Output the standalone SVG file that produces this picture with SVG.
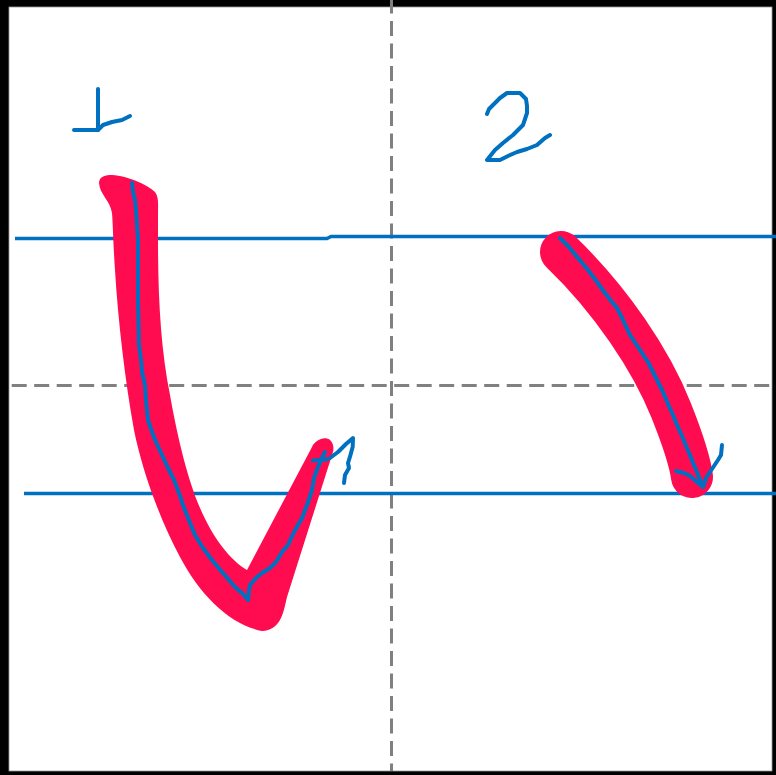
<svg xmlns="http://www.w3.org/2000/svg" width="776" height="775" viewBox="0 0 776 775">
<style>
.guide{fill:none;stroke:#808080;stroke-width:3;stroke-dasharray:15 7.5}
.base{fill:none;stroke:#0070C0;stroke-width:3.5}
.ink{fill:none;stroke:#0070C0;stroke-width:4;stroke-linecap:round;stroke-linejoin:round}
.brush{fill:#FF0B4F}
</style>
<rect x="0" y="0" width="776" height="775" fill="#000"/>
<rect x="9" y="7" width="763" height="764" fill="#fff" stroke="#9a9a9a" stroke-width="0.8"/>
<g id="grid">
<path class="guide" d="M391.5,-1.5 V771"/>
<path class="guide" d="M11.7,385.5 H772"/>
</g>
<g id="baselines">
<path class="base" d="M15,238.5 H327 L331,236.5 H776"/>
<path class="base" d="M24,493.5 H776"/>
</g>
<g id="stroke1">
<path class="brush" d="M99,183 C99,176 106,175 112,175 C128,176 148,185 155,192 C159,197 158,205 158,215 L158,240 C158,300 161,350 170,395 C178,440 188,480 200,508 C213,538 230,560 247,570 L312,447 C316,438 330,434 333,445 C334,450 333,452 332,455 L287,597 C283,615 280,630 262,631 C230,625 200,595 180,557 C160,520 142,470 134,430 C125,380 118,320 115,270 C113,240 113,225 112,213 C110,200 100,195 99,183 Z"/>
<polyline class="ink" points="132,183 133,192 135,200 136,210 137,225 138,240 138,300 139,345 141,360 142,372 145,385 146,400 148,420 152,432 156,442 162,455 168,468 174,480 179,493 183,505 188,518 195,535 203,548 212,560 222,572 235,587 243,594 248,600 249,590 250,585 256,578 262,573 270,568 276,562 282,552 288,545 294,532 302,518 307,505 312,490 314,478 318,467 322,458 325,452"/>
<polyline class="ink" points="313,460.5 327,459.3"/>
<polyline class="ink" points="330,458 338,452 346,444 353,438 352.7,446.7 350,456.7 348,463 349,468 345,475 344,483"/>
</g>
<g id="stroke2">
<path d="M561,252 C611,300 651,360 671,410 C683,440 690,462 692,477" fill="none" stroke="#FF0B4F" stroke-width="42" stroke-linecap="round"/>
<polyline class="ink" points="560,238 568,246 578,258 588,270 597,282 605,293 612,302 617,308 622,318 630,335 640,350 648,362 653,372 658,382 663,392 668,404 673,415 677,425 682,436 686,446 690,455 693,463 697,472 700,480 703,487"/>
<polyline class="ink" points="676,471 684,473 690,476 697,482 703,487 706,478 710,472 714,466 718,460 721,455 722,445"/>
</g>
<g id="number1">
<polyline class="ink" points="98,89 98,130"/>
<polyline class="ink" points="74,130 98,130 103,125 112,122 122,120 130,116"/>
</g>
<g id="number2">
<polyline class="ink" points="487,114 489,109 493,105 500,98 507,93 520,93 526,99 527,106 527,113 523,125 513,135 503,143 495,150 487,160 500,160 508,156 517,152 527,149 537,145 545,138 550,135"/>
</g>
</svg>
